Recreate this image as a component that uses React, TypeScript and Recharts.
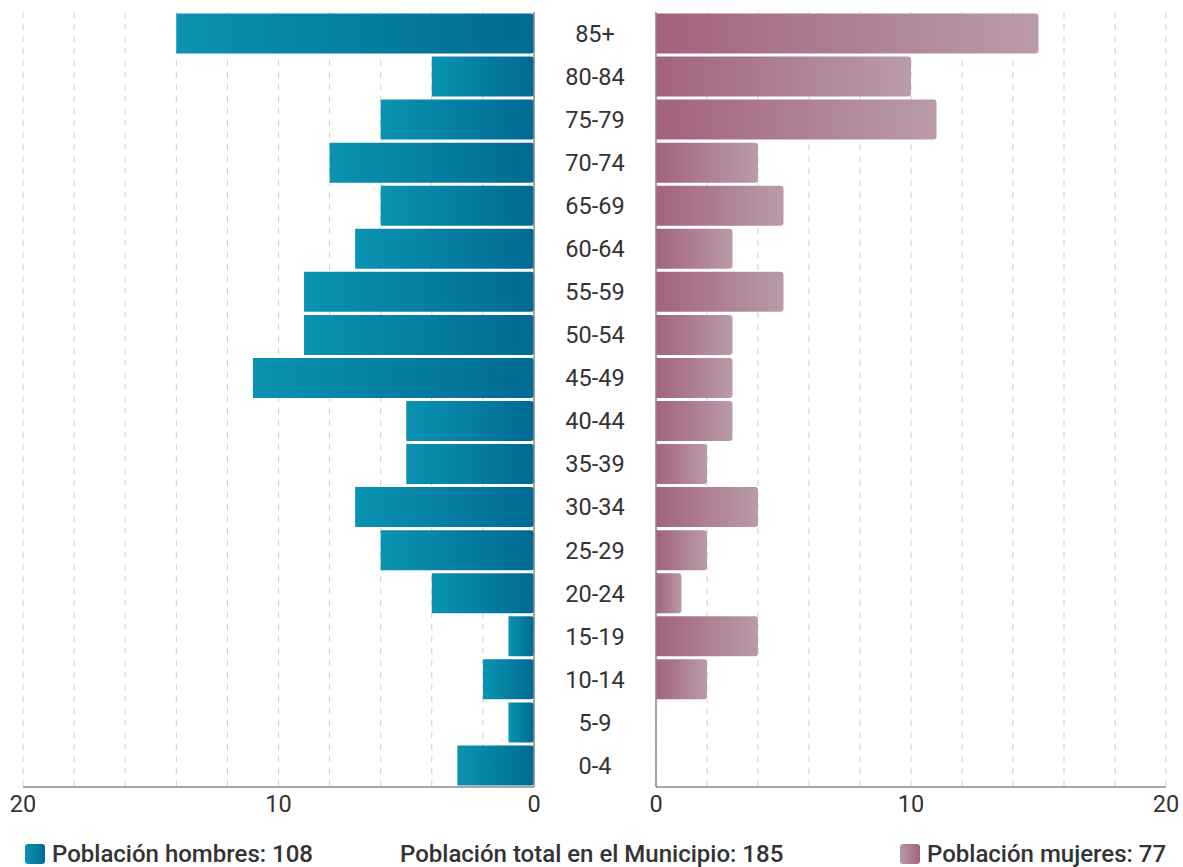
import { BarChart, Bar, XAxis, YAxis, CartesianGrid } from 'recharts';

const grupos = ['85+', '80-84', '75-79', '70-74', '65-69', '60-64', '55-59', '50-54', '45-49', '40-44', '35-39', '30-34', '25-29', '20-24', '15-19', '10-14', '5-9', '0-4'];
const hombres = [14, 4, 6, 8, 6, 7, 9, 9, 11, 5, 5, 7, 6, 4, 1, 2, 1, 3];
const mujeres = [15, 10, 11, 4, 5, 3, 5, 3, 3, 3, 2, 4, 2, 1, 4, 2, 0, 0];
const gridTicks = [0, 2, 4, 6, 8, 10, 12, 14, 16, 18, 20];
const labelTicks = [0, 10, 20];

const data = grupos.map((g, i) => ({ grupo: g, hombres: hombres[i], mujeres: mujeres[i] }));
const totalH = hombres.reduce((s, v) => s + v, 0);
const totalM = mujeres.reduce((s, v) => s + v, 0);

const W = 1183;
const H = 830;
const TEXT = '#333';
const AXIS = '#888';

const fmt = (v: number) => (labelTicks.includes(v) ? String(v) : '');

// age labels sit in the gap between the two panels
const AgeTick = (props: any) => (
  <text x={595} y={props.y} dy="0.355em" textAnchor="middle" fontSize={23.5} fill={TEXT}>
    {props.payload.value}
  </text>
);

const swatch = (grad: string) => ({
  display: 'inline-block',
  width: 20,
  height: 20,
  borderRadius: 3,
  background: grad,
  verticalAlign: '-2px',
  marginRight: 7,
});

const legendText = { position: 'absolute' as const, top: 840, fontSize: 24, fontWeight: 500, color: TEXT, whiteSpace: 'nowrap' as const };

export default function App() {
  return (
    <div style={{ position: 'absolute', left: 0, top: 0, width: W, height: 867, background: '#fff', fontFamily: 'Roboto, sans-serif' }}>
      <div style={{ position: 'absolute', left: 0, top: 0 }}>
        <BarChart width={W} height={H} data={data} layout="vertical" barCategoryGap={1.5}
          margin={{ top: 12, right: 527, left: 23, bottom: 0 }}>
          <defs>
            <linearGradient id="gH" x1="0" y1="0" x2="1" y2="0">
              <stop offset="0%" stopColor="#0a93b1" />
              <stop offset="100%" stopColor="#006a92" />
            </linearGradient>
          </defs>
          <CartesianGrid horizontal={false} strokeDasharray="6 6" stroke="#cfcfcf" />
          <XAxis type="number" domain={[0, 20]} ticks={gridTicks} tickFormatter={fmt} reversed
            interval={0} tickLine={false} axisLine={{ stroke: AXIS, strokeWidth: 1.5 }} height={43}
            tick={{ fontSize: 23.5, fill: TEXT }} />
          <YAxis type="category" dataKey="grupo" orientation="right" width={122}
            tickLine={false} axisLine={{ stroke: AXIS, strokeWidth: 1.5 }} tick={<AgeTick />} interval={0} />
          <Bar dataKey="hombres" fill="url(#gH)" radius={[3, 0, 0, 3]} isAnimationActive={false} />
        </BarChart>
      </div>
      <div style={{ position: 'absolute', left: 0, top: 0 }}>
        <BarChart width={W} height={H} data={data} layout="vertical" barCategoryGap={1.5}
          margin={{ top: 12, right: 17, left: 655, bottom: 0 }}>
          <defs>
            <linearGradient id="gM" x1="0" y1="0" x2="1" y2="0">
              <stop offset="0%" stopColor="#a3627e" />
              <stop offset="100%" stopColor="#b99ba9" />
            </linearGradient>
          </defs>
          <CartesianGrid horizontal={false} strokeDasharray="6 6" stroke="#cfcfcf" />
          <XAxis type="number" domain={[0, 20]} ticks={gridTicks} tickFormatter={fmt}
            interval={0} tickLine={false} axisLine={{ stroke: AXIS, strokeWidth: 1.5 }} height={43}
            tick={{ fontSize: 23.5, fill: TEXT }} />
          <YAxis type="category" dataKey="grupo" width={1} tick={false} tickLine={false}
            axisLine={{ stroke: AXIS, strokeWidth: 1.5 }} />
          <Bar dataKey="mujeres" fill="url(#gM)" radius={[0, 3, 3, 0]} isAnimationActive={false} />
        </BarChart>
      </div>
      <div style={{ ...legendText, left: 25 }}>
        <span style={swatch('linear-gradient(90deg, #0a93b1, #006a92)')} />
        Población hombres: {totalH}
      </div>
      <div style={{ ...legendText, left: 400 }}>
        Población total en el Municipio: {totalH + totalM}
      </div>
      <div style={{ ...legendText, left: 900 }}>
        <span style={swatch('linear-gradient(90deg, #b99ba9, #a3627e)')} />
        Población mujeres: {totalM}
      </div>
    </div>
  );
}
